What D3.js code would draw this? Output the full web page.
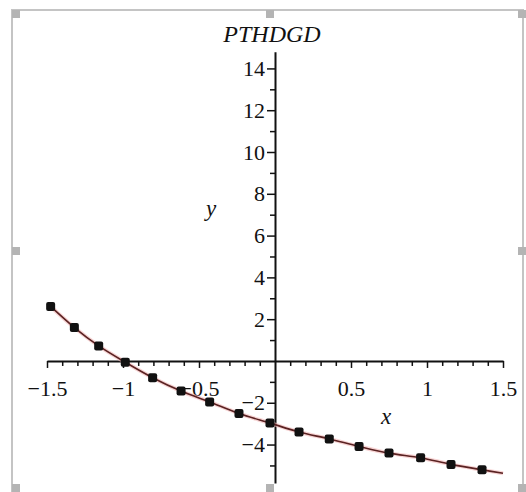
<!DOCTYPE html>
<html>
<head>
<meta charset="utf-8">
<script src="https://cdn.jsdelivr.net/npm/d3@7/dist/d3.min.js"></script>
<style>
  html, body { margin: 0; padding: 0; background: #fff; }
  svg { display: block; }
  .tick text { font-family: "Liberation Serif", "Times New Roman", serif; font-size: 22px; fill: #111; }
</style>
</head>
<body>
<svg id="chart" width="526" height="492"></svg>
<script>
// Sample points (x, y)
const pointX = [-1.476, -1.32, -1.16, -0.985, -0.805, -0.618, -0.43, -0.237, -0.033, 0.158, 0.357, 0.553, 0.75, 0.958, 1.158, 1.362];
const pointY = [2.61, 1.60, 0.72, -0.06, -0.80, -1.44, -1.96, -2.51, -2.97, -3.40, -3.73, -4.09, -4.41, -4.63, -4.95, -5.21];
// Fitted curve through the samples, running to the right edge
const curveX = [-1.476, -1.32, -1.16, -0.985, -0.805, -0.618, -0.43, -0.237, -0.033, 0.158, 0.357, 0.553, 0.75, 0.958, 1.158, 1.362, 1.5];
const curveY = [2.61, 1.60, 0.72, -0.06, -0.80, -1.44, -1.96, -2.51, -2.97, -3.40, -3.73, -4.09, -4.41, -4.63, -4.95, -5.21, -5.37];
// Axis ticks
const xMajor = [-1.5, -1, -0.5, 0.5, 1, 1.5];
const xMinor = [-1.4, -1.3, -1.2, -1.1, -0.9, -0.8, -0.7, -0.6, -0.4, -0.3, -0.2, -0.1, 0.1, 0.2, 0.3, 0.4, 0.6, 0.7, 0.8, 0.9, 1.1, 1.2, 1.3, 1.4];
const yMajor = [-4, -2, 2, 4, 6, 8, 10, 12, 14];
const yMinor = [-5, -3, -1, 1, 3, 5, 7, 9, 11, 13];
const xDomain = [-1.5, 1.5];
const yDomain = [-5.84, 14.8];
const titleText = "PTHDGD";

const svg = d3.select("#chart");
const x = d3.scaleLinear().domain(xDomain).range([47, 503]);
const y = d3.scaleLinear().domain(yDomain).range([483, 51.7]);

const fmt = d => (d < 0 ? "\u2212" : "") + Math.abs(d);

// Plot frame with grey resize handles
svg.append("rect").attr("x", 12).attr("y", 10).attr("width", 511).attr("height", 490)
  .attr("fill", "#fff").attr("stroke", "#c4c4c4").attr("stroke-width", 2);
const handles = [[12, 10], [266, 10], [518, 10], [12, 247], [518, 247], [12, 484], [266, 484], [518, 484]];
svg.selectAll("rect.handle").data(handles).join("rect").attr("class", "handle")
  .attr("x", d => d[0]).attr("y", d => d[1]).attr("width", 8).attr("height", 8)
  .attr("fill", "#b4b4b4");

const x0 = x(0), y0 = y(0);

// x axis: minor and major ticks hanging below the line
svg.append("g").attr("transform", `translate(0,${y0})`)
  .call(d3.axisBottom(x).tickValues(xMinor).tickSize(5).tickFormat(""))
  .call(g => g.select(".domain").remove())
  .call(g => g.selectAll("line").attr("stroke", "#111").attr("stroke-width", 1.5));
svg.append("g").attr("transform", `translate(0,${y0})`)
  .call(d3.axisBottom(x).tickValues(xMajor).tickSize(7).tickPadding(12).tickFormat(fmt).tickSizeOuter(0))
  .call(g => g.select(".domain").attr("stroke", "#111").attr("stroke-width", 2))
  .call(g => g.selectAll("line").attr("stroke", "#111").attr("stroke-width", 1.5));

// y axis: ticks pointing left
svg.append("g").attr("transform", `translate(${x0},0)`)
  .call(d3.axisLeft(y).tickValues(yMinor).tickSize(5).tickFormat(""))
  .call(g => g.select(".domain").remove())
  .call(g => g.selectAll("line").attr("stroke", "#111").attr("stroke-width", 1.5));
svg.append("g").attr("transform", `translate(${x0},0)`)
  .call(d3.axisLeft(y).tickValues(yMajor).tickSize(8).tickPadding(2).tickFormat(fmt).tickSizeOuter(0))
  .call(g => g.select(".domain").attr("stroke", "#111").attr("stroke-width", 2))
  .call(g => g.selectAll("line").attr("stroke", "#111").attr("stroke-width", 1.5));

// Curve with a soft pink edge
const curvePts = curveX.map((d, i) => [d, curveY[i]]);
const line = d3.line().x(d => x(d[0])).y(d => y(d[1])).curve(d3.curveCatmullRom);
svg.append("path").attr("d", line(curvePts)).attr("fill", "none")
  .attr("stroke", "#f2b8b8").attr("stroke-width", 4).attr("opacity", 0.6);
svg.append("path").attr("d", line(curvePts)).attr("fill", "none")
  .attr("stroke", "#5a2222").attr("stroke-width", 1.6);

// Sample markers
const pts = pointX.map((d, i) => [d, pointY[i]]);
svg.selectAll("rect.pt").data(pts).join("rect").attr("class", "pt")
  .attr("x", d => x(d[0]) - 4.5).attr("y", d => y(d[1]) - 4.5)
  .attr("width", 9).attr("height", 9).attr("rx", 2)
  .attr("fill", "#111");

// Title and axis labels
const serif = '"Liberation Serif", "Times New Roman", serif';
svg.append("text").attr("x", 272).attr("y", 42).attr("text-anchor", "middle")
  .attr("font-family", serif).attr("font-style", "italic").attr("font-size", 24)
  .attr("fill", "#111").text(titleText);
svg.append("text").attr("x", 211).attr("y", 216).attr("text-anchor", "middle")
  .attr("font-family", serif).attr("font-style", "italic").attr("font-size", 23)
  .attr("fill", "#111").text("y");
svg.append("text").attr("x", 386).attr("y", 424).attr("text-anchor", "middle")
  .attr("font-family", serif).attr("font-style", "italic").attr("font-size", 23)
  .attr("fill", "#111").text("x");
</script>
</body>
</html>
